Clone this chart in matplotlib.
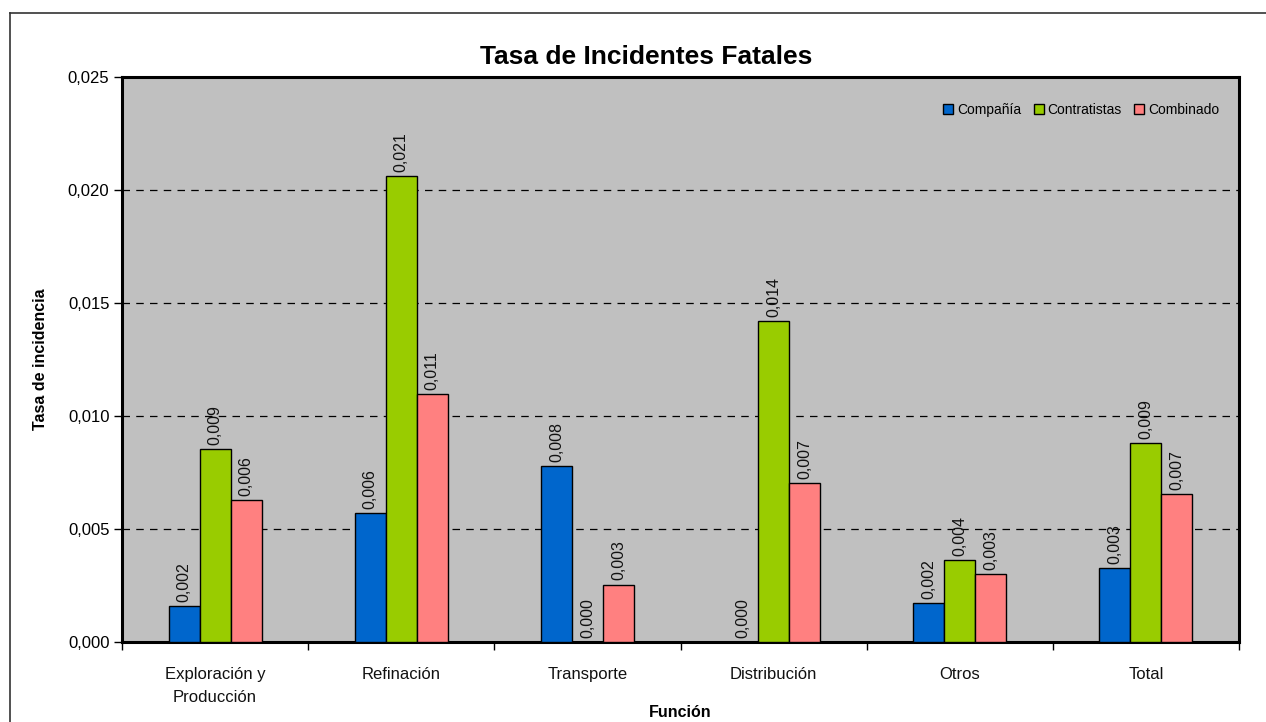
import matplotlib
matplotlib.use("Agg")
import matplotlib.pyplot as plt
import numpy as np
from matplotlib.lines import Line2D
from matplotlib.ticker import FuncFormatter, FixedLocator

plt.rcParams['font.family'] = ['Liberation Sans', 'DejaVu Sans']

categories = ["Exploración y\nProducción", "Refinación", "Transporte", "Distribución", "Otros", "Total"]
series_names = ["Compañía", "Contratistas", "Combinado"]
compania = [0.0016, 0.0057, 0.0078, 0.0, 0.00174, 0.00327]
contratistas = [0.00853, 0.0206, 0.0, 0.01419, 0.00364, 0.00882]
combinado = [0.00628, 0.01096, 0.00254, 0.00704, 0.0030, 0.00653]
colors = ["#0066CC", "#99CC00", "#FF8080"]

W, H = 1266, 722
fig = plt.figure(figsize=(W / 100, H / 100), dpi=100)
ax = fig.add_axes([122 / W, 1 - 642 / H, (1239 - 122) / W, (642 - 77) / H])
ax.set_facecolor("#C0C0C0")

x = np.arange(len(categories))
bw = 1 / 6
all_series = [compania, contratistas, combinado]
for i, (vals, name, c) in enumerate(zip(all_series, series_names, colors)):
    pos = x + (i - 1) * bw
    ax.bar(pos, vals, width=bw, color=c, edgecolor="black", linewidth=1.0,
           label=name, zorder=3)
    for xp, v in zip(pos, vals):
        ax.annotate(f"{v:.3f}".replace(".", ","), (xp, v), xytext=(0, 3),
                    textcoords="offset points", rotation=90, ha="center",
                    va="bottom", fontsize=11.5, color="#111111", zorder=4)

ax.set_xlim(-0.5, len(categories) - 0.5)
ax.set_ylim(0, 0.025)
ax.set_yticks(np.arange(0, 0.0251, 0.005))
ax.yaxis.set_major_formatter(FuncFormatter(lambda v, p: f"{v:.3f}".replace(".", ",")))
ax.tick_params(axis="y", labelsize=12, length=6, width=1, direction="out", pad=3)

ax.xaxis.set_major_locator(FixedLocator(np.arange(-0.5, len(categories), 1.0)))
ax.set_xticklabels([])
ax.xaxis.set_minor_locator(FixedLocator(x))
xt = ax.set_xticklabels(categories, minor=True)
for t in xt:
    t.set_fontsize(12)
    t.set_linespacing(1.65)
    t.set_color("#111111")
ax.tick_params(axis="x", which="major", length=6, width=1, direction="out")
ax.tick_params(axis="x", which="minor", length=0, pad=18)

for yv in [0.005, 0.010, 0.015, 0.020]:
    ax.axhline(yv, color="black", linestyle=(0, (6, 5)), linewidth=0.9, zorder=1)

for s in ax.spines.values():
    s.set_linewidth(2.2)
    s.set_color("black")

ax.set_ylabel("Tasa de incidencia", fontsize=11.5, fontweight="bold", labelpad=14)
ax.set_xlabel("Función", fontsize=11.5, fontweight="bold", labelpad=0)
fig.text(646 / W, 1 - 57 / H, "Tasa de Incidentes Fatales",
         ha="center", va="center", fontsize=19, fontweight="bold")

leg = ax.legend(loc="upper right", bbox_to_anchor=(1 - 14 / 1117, 1 - 20 / 565),
                ncol=3, frameon=False, handlelength=0.7,
                handleheight=0.7, handletextpad=0.3, columnspacing=0.9,
                borderaxespad=0, prop={"size": 10})

# outer chart border (top and left visible)
fig.add_artist(Line2D([10 / W, 10 / W], [0, 1 - 13 / H], transform=fig.transFigure,
                      color="#333333", linewidth=1.2))
fig.add_artist(Line2D([10 / W, 1.0], [1 - 13 / H, 1 - 13 / H], transform=fig.transFigure,
                      color="#333333", linewidth=1.2))

fig.savefig("out.png", dpi=100)
